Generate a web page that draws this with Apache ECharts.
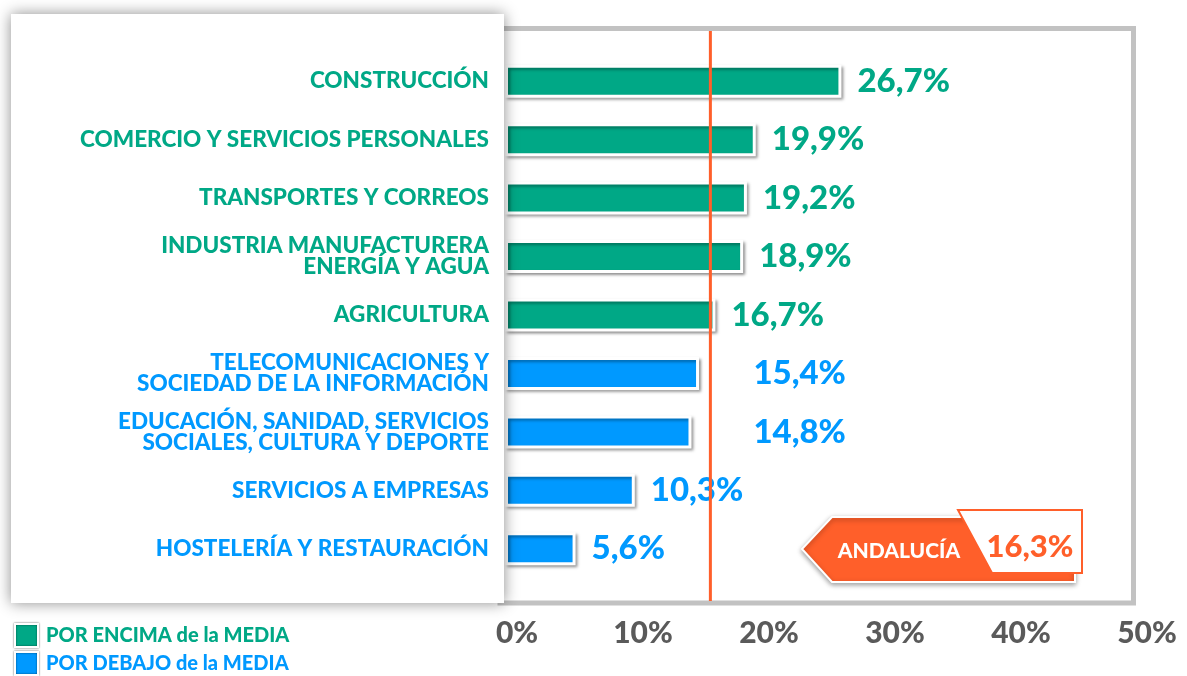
<!DOCTYPE html>
<html><head><meta charset="utf-8">
<script src="https://cdn.jsdelivr.net/npm/echarts@6/dist/echarts.min.js"></script>
<style>html,body{margin:0;padding:0;background:#fff;}#c{width:1187px;height:676px;}</style>
</head><body><div id="c"></div>
<script>
const categories = [
  'CONSTRUCCIÓN',
  'COMERCIO Y SERVICIOS PERSONALES',
  'TRANSPORTES Y CORREOS',
  'INDUSTRIA MANUFACTURERA\nENERGÍA Y AGUA',
  'AGRICULTURA',
  'TELECOMUNICACIONES Y\nSOCIEDAD DE LA INFORMACIÓN',
  'EDUCACIÓN, SANIDAD, SERVICIOS\nSOCIALES, CULTURA Y DEPORTE',
  'SERVICIOS A EMPRESAS',
  'HOSTELERÍA Y RESTAURACIÓN'
];
const values = [26.7, 19.9, 19.2, 18.9, 16.7, 15.4, 14.8, 10.3, 5.6];
const average = 16.3;
const averageLabel = 'ANDALUCÍA';
const seriesNames = ['POR ENCIMA de la MEDIA', 'POR DEBAJO de la MEDIA'];
const xTicks = [0, 10, 20, 30, 40, 50];

const GREEN = '#00a886', BLUE = '#0099ff', ORANGE = '#ff5f2a';
const FONT = 'Lato';
const fmt = v => v.toFixed(1).replace('.', ',') + '%';

const gridLeft = 505, gridRight = 1135;
const pxPerUnit = (gridRight - gridLeft) / (xTicks[xTicks.length - 1] - xTicks[0]);

function seriesData(above) {
  return values.map(v => {
    const isAbove = v > average;
    if (isAbove !== above) return '-';
    let dist = 16;
    if (!isAbove && v > average - 2) dist = (average - v) * pxPerUnit + 43;
    return { value: v, label: { distance: dist } };
  });
}

const chart = echarts.init(document.getElementById('c'), null, { renderer: 'canvas' });
const barStyle = c => ({
  color: c, borderColor: '#fff', borderWidth: 3,
  shadowColor: 'rgba(0,0,0,0.35)', shadowBlur: 3, shadowOffsetX: 2, shadowOffsetY: 2
});
const labelStyle = c => ({
  show: true, position: 'right', color: c, fontFamily: FONT, fontWeight: 900,
  fontSize: 33, padding: [10, 0, 0, 0], formatter: p => fmt(p.value)
});

chart.setOption({
  animation: false,
  backgroundColor: '#fff',
  grid: { left: gridLeft, right: 1187 - gridRight, top: 52, bottom: 98, containLabel: false },
  xAxis: {
    type: 'value', min: xTicks[0], max: xTicks[xTicks.length - 1], interval: 10,
    axisLine: { show: false }, axisTick: { show: false }, splitLine: { show: false },
    axisLabel: {
      formatter: '{value}%', color: '#5a5a5a', fontFamily: FONT, fontWeight: 900,
      fontSize: 30, margin: 40, padding: [0, 0, 0, 24]
    }
  },
  yAxis: {
    type: 'category', inverse: true, data: categories, z: 10,
    axisLine: { show: false }, axisTick: { show: false },
    axisLabel: {
      margin: 16, fontFamily: FONT, fontWeight: 900, fontSize: 22.5, lineHeight: 21,
      align: 'right',
      color: (val, idx) => values[idx] > average ? GREEN : BLUE
    }
  },
  legend: {
    orient: 'vertical', left: 14, top: 623, height: 120, padding: 0,
    itemWidth: 23, itemHeight: 23, itemGap: 3,
    icon: 'rect',
    itemStyle: { borderColor: '#fff', borderWidth: 2, shadowColor: 'rgba(0,0,0,0.6)', shadowBlur: 2 },
    textStyle: { fontFamily: FONT, fontWeight: 900, fontSize: 20, padding: [2, 0, 0, 3] },
    data: [
      { name: seriesNames[0], textStyle: { color: GREEN } },
      { name: seriesNames[1], textStyle: { color: BLUE } }
    ]
  },
  series: [
    { name: seriesNames[0], type: 'bar', barWidth: 33, barGap: '-100%', z: 2,
      itemStyle: barStyle(GREEN), label: labelStyle(GREEN), data: seriesData(true) },
    { name: seriesNames[1], type: 'bar', barWidth: 33, barGap: '-100%', z: 2,
      itemStyle: barStyle(BLUE), label: labelStyle(BLUE), data: seriesData(false) }
  ]
});

const ax = chart.convertToPixel({ xAxisIndex: 0 }, average);
chart.setOption({
  graphic: [
    { type: 'rect', z: 0, silent: true,
      shape: { x: 500, y: 28.5, width: 633.5, height: 574.5 },
      style: { fill: 'none', stroke: '#c2c2c2', lineWidth: 5 } },
    { type: 'rect', z: 5, silent: true,
      shape: { x: 11, y: 14, width: 493, height: 589 },
      style: { fill: '#fff', shadowColor: 'rgba(0,0,0,0.45)', shadowBlur: 14 } },
    { type: 'line', z: 4, silent: true,
      shape: { x1: ax, y1: 31, x2: ax, y2: 601 },
      style: { stroke: ORANGE, lineWidth: 3 } },
    { type: 'polygon', z: 6, silent: true,
      shape: { points: [[802, 549], [832, 517], [1075, 517], [1075, 582], [832, 582]] },
      style: { fill: ORANGE, stroke: '#fff', lineWidth: 2, shadowColor: 'rgba(0,0,0,0.35)', shadowBlur: 5, shadowOffsetY: 2 } },
    { type: 'polygon', z: 7, silent: true,
      shape: { points: [[958, 510], [1082, 510], [1082, 573], [992, 573]] },
      style: { fill: '#fff', stroke: ORANGE, lineWidth: 2 } },
    { type: 'text', z: 8, silent: true, x: 899, y: 551,
      style: { text: averageLabel, fill: '#fff', font: '900 21px Lato', align: 'center', verticalAlign: 'middle' } },
    { type: 'text', z: 8, silent: true, x: 1030, y: 547,
      style: { text: fmt(average), fill: ORANGE, font: '900 31px Lato', align: 'center', verticalAlign: 'middle' } }
  ]
});
</script></body></html>
